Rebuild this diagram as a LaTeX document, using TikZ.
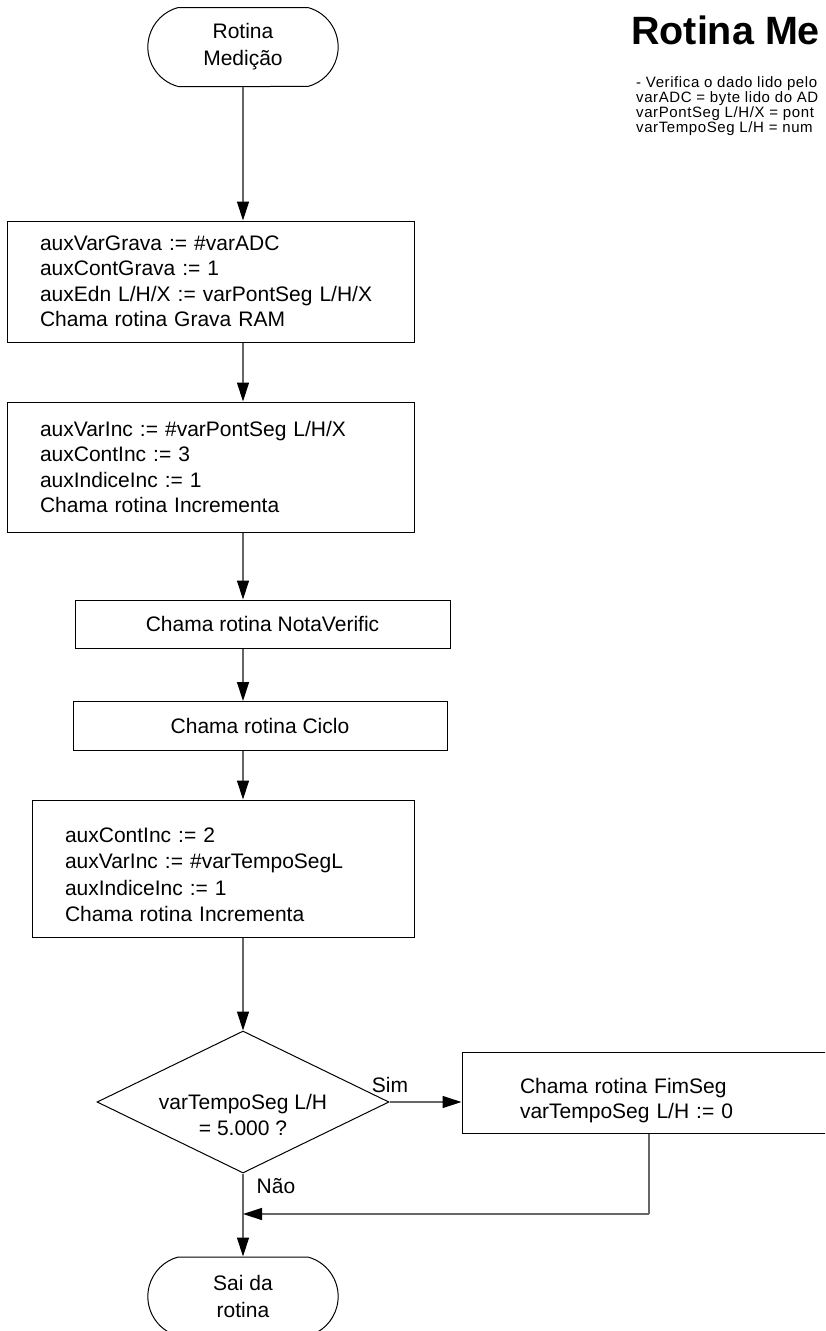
\documentclass[tikz,border=0pt]{standalone}
\usepackage{fontspec}
\setmainfont{Liberation Sans}
\usetikzlibrary{arrows.meta,shapes,positioning}
\begin{document}
\begin{tikzpicture}[x=1pt,y=-1pt,
  box/.style={draw,line width=1pt,rectangle,font=\fontsize{21}{25.5}\selectfont},
  txtbox/.style={box,align=left,inner xsep=33pt},
  term/.style={draw,line width=1pt,rounded rectangle,rounded rectangle arc length=150,minimum width=197pt,minimum height=79pt,align=center,font=\fontsize{21}{27}\selectfont},
  decision/.style={draw,line width=1pt,diamond,minimum width=292pt,minimum height=142pt,inner sep=0pt},
  flow/.style={draw=black!60,line width=1.3pt,-{Triangle[length=19pt,width=12pt,color=black]}},
  link/.style={draw=black!60,line width=1.3pt},
  lbl/.style={font=\fontsize{21}{25.5}\selectfont}]
\useasboundingbox (0,0) rectangle (825,1331);
\clip (0,0) rectangle (825,1331);
%title and notes
\node[anchor=base west,inner sep=0pt,font=\fontsize{39.5}{42}\selectfont\bfseries] (titulo) at (631,44) {Rotina Me};
\node[anchor=north west,inner sep=0pt,align=left,font=\fontsize{15}{12.8}\selectfont\addfontfeature{LetterSpace=4}] (notas) at (636,76)
  {- Verifica o dado lido pelo\\varADC = byte lido do AD\\varPontSeg L/H/X = pont\\varTempoSeg L/H = num};
%start
\node[term] (inicio) at (243,47) {Rotina\\Medição};
%main column of boxes
\node[txtbox,text width=341pt,minimum height=121pt] (grava) at (210.5,281.5)
  {auxVarGrava := \#varADC\\auxContGrava := 1\\auxEdn L/H/X := varPontSeg L/H/X\\Chama rotina Grava RAM};
\node[txtbox,text width=341pt,minimum height=130pt] (inc1) at (210.5,467)
  {auxVarInc := \#varPontSeg L/H/X\\auxContInc := 3\\auxIndiceInc := 1\\Chama rotina Incrementa};
\node[box,minimum width=375pt,minimum height=48pt] (nota) at (262.5,624) {Chama rotina NotaVerific};
\node[box,minimum width=374pt,minimum height=49pt] (ciclo) at (260,726) {Chama rotina Ciclo};
\node[txtbox,text width=316pt,minimum height=137pt,font=\fontsize{21}{26.5}\selectfont] (inc2) at (223,868.5)
  {\rule{0pt}{27pt}auxContInc := 2\\auxVarInc := \#varTempoSegL\\auxIndiceInc := 1\\Chama rotina Incrementa};
%decision
\node[decision] (teste) at (243,1102) {};
\node[lbl,align=center] (testetxt) at (243,1115) {varTempoSeg L/H\\= 5.000 ?};
\node[txtbox,inner xsep=58pt,text width=284pt,minimum height=81pt] (fimseg) at (662,1092.5)
  {\rule{0pt}{31pt}Chama rotina FimSeg\\varTempoSeg L/H := 0};
%end
\node[term] (sai) at (243,1296.5) {Sai da\\rotina};
\node[lbl] (sim) at (390,1085) {Sim};
\node[lbl] (nao) at (276,1186) {Não};
%connectors
\draw[flow] (inicio.south) -- (inicio.south |- grava.north);
\draw[flow] (grava.south -| inicio.south) -- (inc1.north -| inicio.south);
\draw[flow] (inc1.south -| inicio.south) -- (nota.north -| inicio.south);
\draw[flow] (nota.south -| inicio.south) -- (ciclo.north -| inicio.south);
\draw[flow] (ciclo.south -| inicio.south) -- (inc2.north -| inicio.south);
\draw[flow] (inc2.south -| inicio.south) -- (teste.north);
\draw[flow] (teste.east) -- (teste.east -| fimseg.west);
\draw[flow] (teste.south) -- (sai.north);
\coordinate (volta) at (649,1214);
\draw[link] (fimseg.south -| volta) -- (volta);
\draw[flow] (volta) -- (volta -| sai.north);
\end{tikzpicture}
\end{document}
